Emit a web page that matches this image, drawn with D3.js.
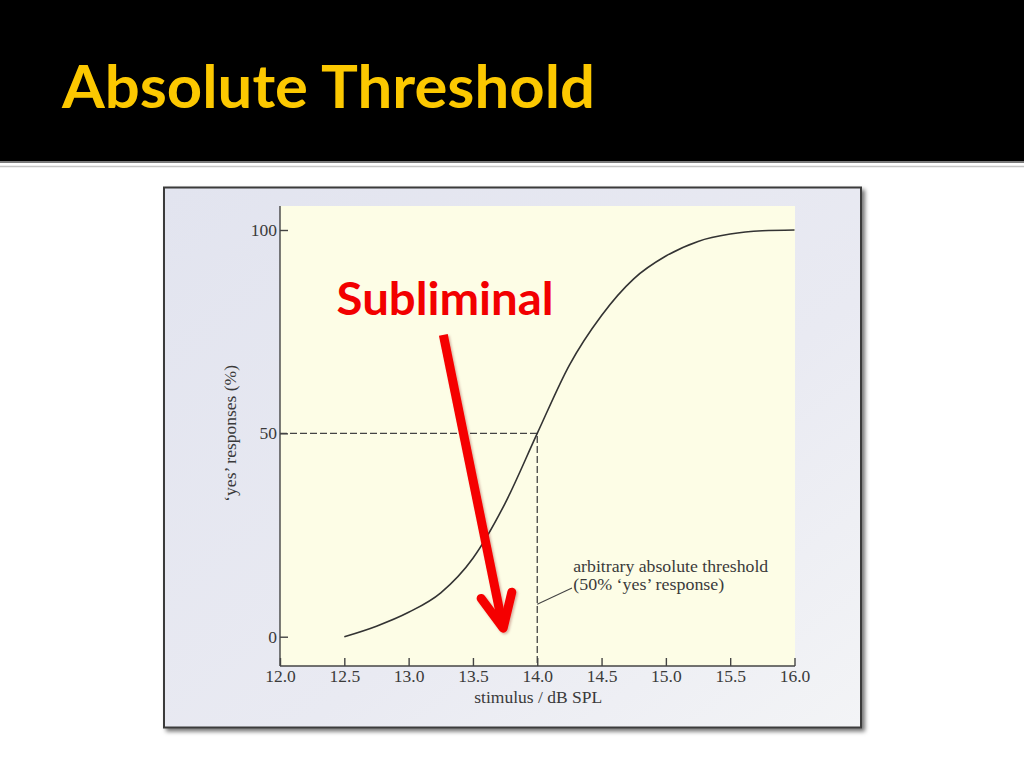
<!DOCTYPE html>
<html><head><meta charset="utf-8">
<script src="https://cdn.jsdelivr.net/npm/d3@7"></script>
<style>body{margin:0;background:#fff;} svg{display:block}</style>
</head><body>
<svg id="c" width="1024" height="768"></svg>
<script>
// ---- data ----
const stimulus  = [12.5, 12.75, 13.0, 13.25, 13.5, 13.75, 14.0, 14.25, 14.5, 14.75, 15.0, 15.25, 15.5, 15.75, 16.0];
const responses = [0,    2.6,   6.0,  10.8,  19.3, 32.8,  50,   66.8,  79,   88,    93.6, 97.2,  99.0, 99.8,  100];
const xTicks = [12.0, 12.5, 13.0, 13.5, 14.0, 14.5, 15.0, 15.5, 16.0];
const yTicks = [0, 50, 100];
const threshold = {x: 14.0, y: 50};
const titleText = "Absolute Threshold";
const xLabel = "stimulus / dB SPL";
const yLabel = "\u2018yes\u2019 responses (%)";
const noteLines = ["arbitrary absolute threshold", "(50% \u2018yes\u2019 response)"];
const noteWidths = [195, 151];
const noteAnchor = {x: 14.28, y: 15.9};
const leaderFrom = {x: 14.0, y: 8.0};
const leaderTo = {x: 14.27, y: 12.0};
const overlayText = "Subliminal";
const overlayAnchor = {x: 12.44, y: 79.1};
const arrowStart = {x: 13.27, y: 74.2};
const arrowEnd = {x: 13.735, y: 2.1};

// ---- layout ----
const svg = d3.select("#c");
const defs = svg.append("defs");
const grad = defs.append("linearGradient").attr("id","fg").attr("x1","0").attr("y1","0").attr("x2","1").attr("y2","1");
grad.append("stop").attr("offset","0").attr("stop-color","#e2e4ef");
grad.append("stop").attr("offset","0.6").attr("stop-color","#e9eaf2");
grad.append("stop").attr("offset","1").attr("stop-color","#f3f4f6");
const sh = defs.append("filter").attr("id","sh").attr("x","-5%").attr("y","-5%").attr("width","115%").attr("height","115%");
sh.append("feDropShadow").attr("dx",3).attr("dy",3).attr("stdDeviation",2.2).attr("flood-color","#000").attr("flood-opacity",0.55);
const ash = defs.append("filter").attr("id","ash").attr("x","-20%").attr("y","-5%").attr("width","140%").attr("height","115%");
ash.append("feDropShadow").attr("dx",1.5).attr("dy",1.5).attr("stdDeviation",1.2).attr("flood-color","#700").attr("flood-opacity",0.3);

// header
svg.append("rect").attr("x",0).attr("y",0).attr("width",1024).attr("height",161).attr("fill","#000");
svg.append("line").attr("x1",0).attr("x2",1024).attr("y1",162).attr("y2",162).attr("stroke","#7a7a7a").attr("stroke-width",2);
svg.append("line").attr("x1",0).attr("x2",1024).attr("y1",166.5).attr("y2",166.5).attr("stroke","#c4c4c4").attr("stroke-width",1.5);
svg.append("text").attr("x",62).attr("y",108).text(titleText)
  .attr("font-family","Lato, 'Open Sans', sans-serif").attr("font-weight","bold").attr("font-size",60)
  .attr("fill","#fcc800").attr("textLength",533).attr("lengthAdjust","spacingAndGlyphs");

// frame
svg.append("rect").attr("x",164).attr("y",187.5).attr("width",697).attr("height",540)
  .attr("fill","url(#fg)").attr("stroke","#3a3a3a").attr("stroke-width",2).attr("filter","url(#sh)");

// plot area
const pl = 280, pr = 795, pt = 206, pb = 666;
svg.append("rect").attr("x",pl).attr("y",pt).attr("width",pr-pl).attr("height",pb-pt).attr("fill","#fdfde6");

const x = d3.scaleLinear().domain([12, 16]).range([280, 794.5]);
const y = d3.scaleLinear().domain([-7.2, 105.9]).range([pb, pt]);

const serif = "'Liberation Serif', 'Times New Roman', serif";
const ink = "#3a3a3a";

const xAxis = svg.append("g").attr("transform",`translate(0,${pb})`)
  .call(d3.axisBottom(x).tickValues(xTicks).tickFormat(d3.format(".1f")).tickSizeInner(-8).tickSizeOuter(0).tickPadding(4));
const yAxis = svg.append("g").attr("transform",`translate(${pl},0)`)
  .call(d3.axisLeft(y).tickValues(yTicks).tickFormat(d3.format("d")).tickSizeInner(-8).tickSizeOuter(0).tickPadding(3));
[xAxis, yAxis].forEach(g => {
  g.select(".domain").attr("stroke","#444").attr("stroke-width",1.4);
  g.selectAll(".tick line").attr("stroke","#444").attr("stroke-width",1.4);
  g.selectAll(".tick text").attr("font-family",serif).attr("font-size",17.5).attr("fill",ink);
});
// domain lines span the whole plot area
xAxis.select(".domain").attr("d",`M${pl},0H${pr}`);
yAxis.select(".domain").attr("d",`M0,${pt}V${pb}`);

// axis titles
svg.append("text").attr("x",(x(12)+x(16))/2 + 1).attr("y",703).attr("text-anchor","middle")
  .attr("font-family",serif).attr("font-size",17.5).attr("fill",ink).text(xLabel);
svg.append("text").attr("transform",`translate(236,${y(50)}) rotate(-90)`).attr("text-anchor","middle")
  .attr("font-family",serif).attr("font-size",17.5).attr("fill",ink).text(yLabel);

// dashed threshold lines
svg.append("path").attr("d",`M${pl},${y(threshold.y)}H${x(threshold.x)}V${pb}`)
  .attr("fill","none").attr("stroke","#444").attr("stroke-width",1.3).attr("stroke-dasharray","7,3");

// curve
const data = stimulus.map((s,i)=>({s, r: responses[i]}));
svg.append("path").datum(data)
  .attr("d", d3.line().x(d=>x(d.s)).y(d=>y(d.r)).curve(d3.curveMonotoneX))
  .attr("fill","none").attr("stroke","#333").attr("stroke-width",1.6);

// annotation
svg.append("line").attr("x1",x(leaderFrom.x)).attr("y1",y(leaderFrom.y)).attr("x2",x(leaderTo.x)).attr("y2",y(leaderTo.y))
  .attr("stroke","#444").attr("stroke-width",1.1);
noteLines.forEach((t,i)=> svg.append("text").attr("font-family",serif).attr("font-size",16.3).attr("fill",ink)
  .attr("x",x(noteAnchor.x)).attr("y",y(noteAnchor.y) + i*18.3)
  .attr("textLength",noteWidths[i]).attr("lengthAdjust","spacingAndGlyphs").text(t));

// overlay label
svg.append("text").attr("x",x(overlayAnchor.x)).attr("y",y(overlayAnchor.y)).text(overlayText)
  .attr("font-family","Lato, 'Open Sans', sans-serif").attr("font-weight","bold").attr("font-size",46)
  .attr("fill","#f20000").attr("textLength",217).attr("lengthAdjust","spacingAndGlyphs");

// red arrow
const x0 = x(arrowStart.x), y0 = y(arrowStart.y), x1 = x(arrowEnd.x), y1 = y(arrowEnd.y);
const ang = Math.atan2(y0 - y1, x0 - x1);
const headLen = 37, spread = 25 * Math.PI / 180;
const hl = [x1 + headLen*Math.cos(ang+spread), y1 + headLen*Math.sin(ang+spread)];
const hr = [x1 + headLen*Math.cos(ang-spread), y1 + headLen*Math.sin(ang-spread)];
const ag = svg.append("g").attr("filter","url(#ash)");
ag.append("path").attr("d",`M${x0},${y0}L${x1 + 3*Math.cos(ang)},${y1 + 3*Math.sin(ang)}`)
  .attr("stroke","#f50000").attr("stroke-width",9).attr("fill","none");
ag.append("path").attr("d",`M${hl[0]},${hl[1]}L${x1},${y1}L${hr[0]},${hr[1]}`)
  .attr("stroke","#f50000").attr("stroke-width",9).attr("fill","none")
  .attr("stroke-linejoin","round").attr("stroke-linecap","round");
</script>
</body></html>
